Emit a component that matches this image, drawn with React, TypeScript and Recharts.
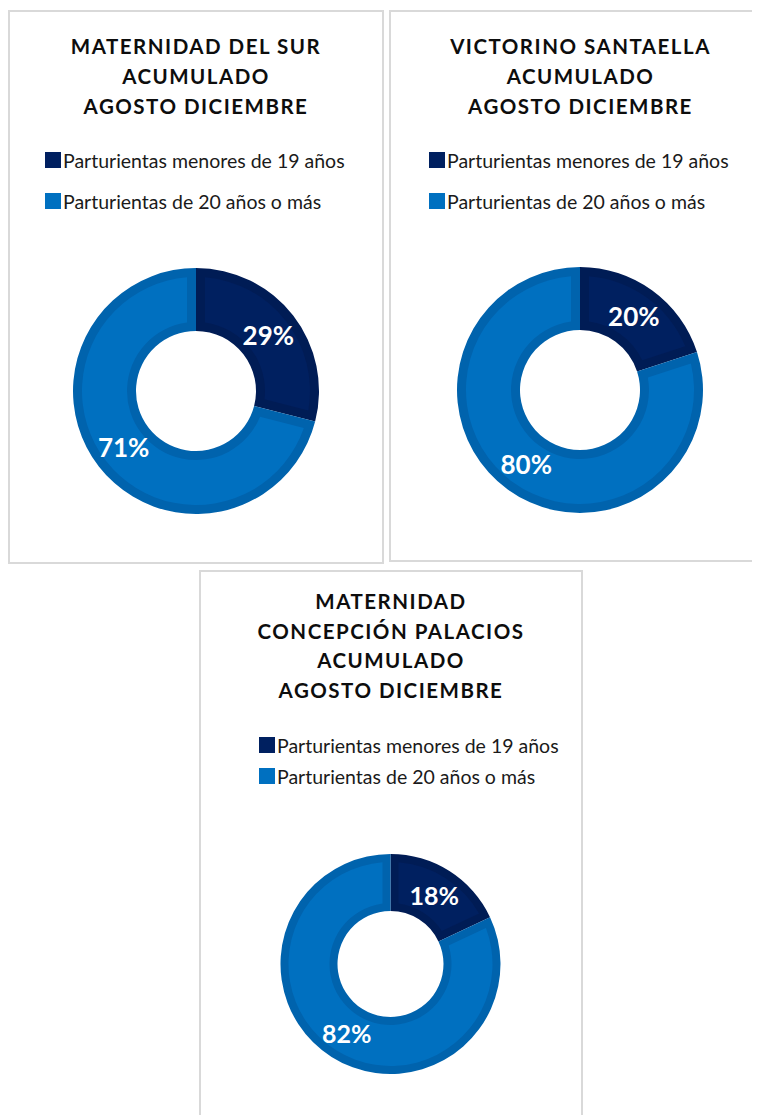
import React from 'react';
import { Cell, Pie, PieChart } from 'recharts';

const categories = ['Parturientas menores de 19 años', 'Parturientas de 20 años o más'];
const maternidadSur = [29, 71];
const victorinoSantaella = [20, 80];
const concepcionPalacios = [18, 82];

const titleSur = ['MATERNIDAD DEL SUR', 'ACUMULADO', 'AGOSTO DICIEMBRE'];
const titleVictorino = ['VICTORINO SANTAELLA', 'ACUMULADO', 'AGOSTO DICIEMBRE'];
const titleConcepcion = ['MATERNIDAD', 'CONCEPCIÓN PALACIOS', 'ACUMULADO', 'AGOSTO DICIEMBRE'];

const COLORS = ['#002060', '#0070C0'];
const BAND: Record<string, string> = { '#002060': '#001c55', '#0070C0': '#0063ad' };
const RAD = Math.PI / 180;

const pt = (cx: number, cy: number, r: number, a: number) =>
    `${cx + r * Math.cos(-a * RAD)},${cy + r * Math.sin(-a * RAD)}`;

function sectorPath(cx: number, cy: number, ri: number, ro: number, so: number, eo: number, si: number, ei: number) {
    const large = Math.abs(so - eo) > 180 ? 1 : 0;
    const largeI = Math.abs(si - ei) > 180 ? 1 : 0;
    const sweep = so > eo ? 1 : 0;
    return [
        `M${pt(cx, cy, ro, so)}`,
        `A${ro},${ro} 0 ${large} ${sweep} ${pt(cx, cy, ro, eo)}`,
        `L${pt(cx, cy, ri, ei)}`,
        `A${ri},${ri} 0 ${largeI} ${1 - sweep} ${pt(cx, cy, ri, si)}`,
        'Z'
    ].join(' ');
}

// slice with a darker inner rim, like the bevel in the original
function makeShape(band: number) {
    return (props: any) => {
        const { cx, cy, innerRadius, outerRadius, startAngle, endAngle, fill } = props;
        const s = startAngle;
        const e = endAngle;
        const sign = s > e ? -1 : 1;
        const ro = outerRadius - band;
        const ri = innerRadius + band;
        const dO = Math.asin(band / ro) / RAD;
        const dI = Math.asin(band / ri) / RAD;
        return (
            <g>
                <path d={sectorPath(cx, cy, innerRadius, outerRadius, s, e, s, e)} fill={BAND[fill] || fill} />
                <path
                    d={sectorPath(cx, cy, ri, ro, s + sign * dO, e - sign * dO, s + sign * dI, e - sign * dI)}
                    fill={fill}
                />
            </g>
        );
    };
}

function makeLabel(fontSize: number) {
    return (props: any) => {
        const { cx, cy, midAngle, innerRadius, outerRadius, value } = props;
        const r = (innerRadius + outerRadius) / 2;
        const x = cx + r * Math.cos(-midAngle * RAD);
        const y = cy + r * Math.sin(-midAngle * RAD);
        return (
            <text
                x={x}
                y={y}
                fill="#ffffff"
                textAnchor="middle"
                dominantBaseline="central"
                fontFamily="Lato"
                fontWeight="bold"
                fontSize={fontSize}
            >
                {`${value}%`}
            </text>
        );
    };
}

type PanelProps = {
    left: number;
    top: number;
    width: number;
    height: number;
    title: string[];
    titleTop: number;
    titleLine: number;
    values: number[];
    legendLeft: number;
    legendTop: number;
    legendGap: number;
    cx: number;
    cy: number;
    inner: number;
    outer: number;
    band: number;
    labelSize: number;
};

function DonutPanel(p: PanelProps) {
    const data = categories.map((name, i) => ({ name, value: p.values[i] }));
    return (
        <div
            style={{
                position: 'absolute',
                left: p.left - 8,
                top: p.top - 8,
                width: p.width,
                height: p.height,
                boxShadow: 'inset 0 0 0 2px #d9d9d9',
                background: '#fff'
            }}
        >
            <div
                style={{
                    position: 'absolute',
                    left: 0,
                    top: p.titleTop,
                    width: p.width,
                    textAlign: 'center',
                    fontFamily: 'Lato',
                    fontWeight: 'bold',
                    fontSize: 20.5,
                    letterSpacing: 1.5,
                    lineHeight: `${p.titleLine}px`,
                    color: '#0d0d0d'
                }}
            >
                {p.title.map((t) => (
                    <div key={t}>{t}</div>
                ))}
            </div>
            {categories.map((c, i) => (
                <div
                    key={c}
                    style={{
                        position: 'absolute',
                        left: p.legendLeft,
                        top: p.legendTop + i * p.legendGap - 12,
                        height: 24,
                        display: 'flex',
                        alignItems: 'center',
                        fontFamily: 'Lato',
                        fontSize: 19.5,
                        color: '#1a1a1a',
                        whiteSpace: 'nowrap'
                    }}
                >
                    <span style={{ width: 16, height: 16, background: COLORS[i], marginRight: 2 }} />
                    {c}
                </div>
            ))}
            <div style={{ position: 'absolute', left: 0, top: 0 }}>
                <PieChart width={p.width} height={p.height} margin={{ top: 0, right: 0, bottom: 0, left: 0 }}>
                    <Pie
                        data={data}
                        dataKey="value"
                        nameKey="name"
                        cx={p.cx}
                        cy={p.cy}
                        innerRadius={p.inner}
                        outerRadius={p.outer}
                        startAngle={90}
                        endAngle={-270}
                        stroke="none"
                        shape={makeShape(p.band)}
                        label={makeLabel(p.labelSize)}
                        labelLine={false}
                        isAnimationActive={false}
                    >
                        {data.map((d, i) => (
                            <Cell key={d.name} fill={COLORS[i]} />
                        ))}
                    </Pie>
                </PieChart>
            </div>
        </div>
    );
}

export default function App() {
    return (
        <div style={{ position: 'relative', width: 752, height: 1107, overflow: 'hidden' }}>
            <DonutPanel
                left={8}
                top={10}
                width={376}
                height={554}
                title={titleSur}
                titleTop={21}
                titleLine={30}
                values={maternidadSur}
                legendLeft={37}
                legendTop={150}
                legendGap={41}
                cx={188}
                cy={381}
                inner={60}
                outer={123}
                band={9}
                labelSize={26}
            />
            <DonutPanel
                left={389}
                top={10}
                width={383}
                height={552}
                title={titleVictorino}
                titleTop={21}
                titleLine={30}
                values={victorinoSantaella}
                legendLeft={40}
                legendTop={150}
                legendGap={41}
                cx={191}
                cy={380}
                inner={60}
                outer={123}
                band={9}
                labelSize={26}
            />
            <DonutPanel
                left={199}
                top={570}
                width={384}
                height={560}
                title={titleConcepcion}
                titleTop={17}
                titleLine={29.5}
                values={concepcionPalacios}
                legendLeft={60}
                legendTop={175}
                legendGap={31}
                cx={191.5}
                cy={394}
                inner={53}
                outer={110}
                band={8}
                labelSize={25}
            />
        </div>
    );
}
